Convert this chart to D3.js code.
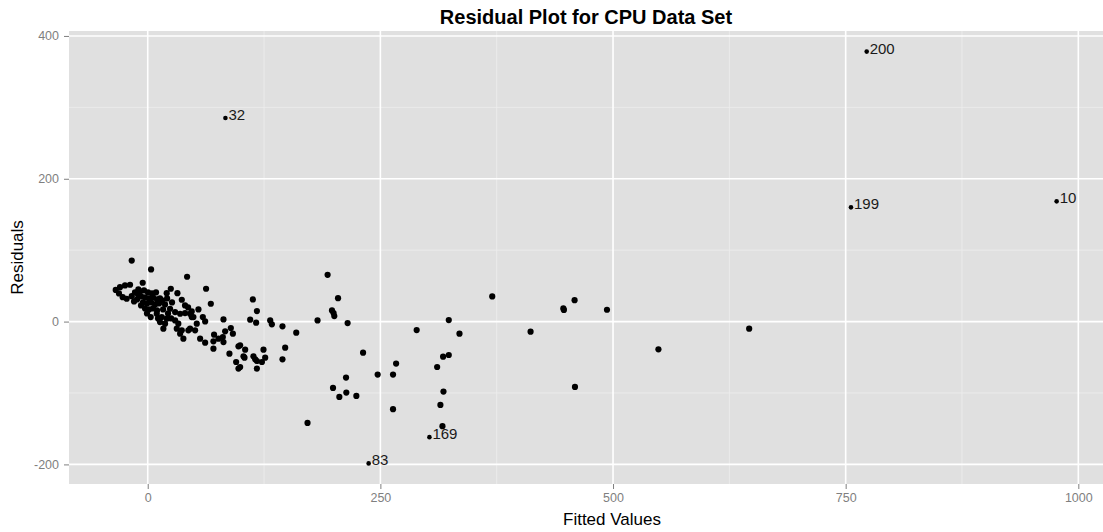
<!DOCTYPE html>
<html>
<head>
<meta charset="utf-8">
<script src="https://cdn.jsdelivr.net/npm/d3@7"></script>
<style>
  html, body { margin: 0; padding: 0; background: #ffffff; overflow: hidden; }
  svg { display: block; font-family: "Liberation Sans", Arial, Helvetica, sans-serif; }
</style>
</head>
<body>
<svg id="chart" width="1103" height="532"></svg>
<script>
// Fitted values and residuals of the linear model on the CPU performance data
const fitted = [
  -17.2, 3.6, 42.3, -5.4, -34.4, -29.8, -24.4, -19.0, -10.1, -26.9,
  -22.6, -17.2, -13.7, -30.9, -8.3, -4.0, 0.3, 4.6, 8.9, -7.2,
  -2.9, 1.4, 5.7, 10.0, 13.2, -5.1, -0.8, 3.6, 7.9, 12.2,
  -11.5, -2.9, 1.4, 5.7, 10.0, 3.2, -0.8, -7.2, -14.7, -10.4,
  24.8, 20.4, 31.9, 36.6, 18.6, 24.0, 29.4, 34.8, 40.1, 45.5,
  9.7, 15.1, 20.4, 13.2, 18.6, 16.8, 29.4, 32.9, 31.2, 36.6,
  34.8, 38.3, 43.7, 47.3, 15.4, 20.8, 26.1, 16.5, 21.8, 25.1,
  11.1, 40.1, 43.4, 62.7, 67.8, 54.5, 47.3, 49.1, 59.2, 61.7,
  52.7, 50.9, 45.5, 81.4, 56.3, 61.7, 71.3, 70.6, 76.0, 80.7,
  81.4, 83.2, 89.3, 91.5, 70.6, 87.8, 97.5, 102.9, 113.0, 117.3,
  110.1, 116.5, 131.6, 133.4, 144.8, 159.6, 182.5, 99.3, 104.7, 104.0,
  99.3, 113.6, 115.5, 117.3, 122.7, 124.4, 126.2, 117.3, 147.7, 144.8,
  193.3, 204.5, 198.0, 199.7, 200.5, 214.8, 231.4, 213.1, 199.1, 205.9,
  213.4, 224.2, 247.1, 263.6, 266.9, 263.6, 171.7, 95.0, 97.5, 370.2,
  446.6, 447.2, 458.7, 493.5, 323.5, 289.0, 335.0, 411.4, 548.8, 317.4,
  323.5, 311.0, 317.8, 314.5, 459.1, 646.3, 316.7
];
const residuals = [
  85.5, 73.0, 62.8, 54.4, 44.3, 48.2, 50.6, 51.6, 45.0, 34.2,
  32.0, 35.6, 40.8, 39.4, 42.2, 43.6, 40.8, 39.4, 40.8, 35.2,
  33.8, 32.4, 33.8, 31.0, 32.4, 26.8, 25.4, 26.8, 24.0, 25.4,
  31.0, 18.4, 17.1, 18.4, 15.7, 6.3, 11.5, 22.6, 28.2, 38.0,
  46.0, 39.8, 39.8, 30.6, 24.0, 18.0, 13.3, 11.0, 11.9, 11.0,
  11.0, 6.3, 4.1, -0.7, -2.9, -9.9, 1.7, -2.9, -9.9, -12.3,
  -16.9, -23.9, -12.3, 6.3, 29.6, 32.4, 26.8, 17.1, 11.5, 4.5,
  4.5, 22.6, 19.8, 46.0, 25.0, 17.1, 14.3, 6.3, 6.3, 0.3,
  -2.9, -12.3, -9.9, 3.1, -23.9, -29.5, -18.3, -27.7, -23.9, -21.7,
  -28.7, -13.7, -9.1, -16.9, -37.9, -44.9, -34.7, -48.6, 31.0, 14.7,
  2.7, -1.5, 1.7, -3.9, -6.7, -15.5, 1.7, -33.3, -39.3, -50.5,
  -63.6, -48.6, -52.8, -55.2, -56.6, -39.3, -50.5, -65.8, -36.5, -52.8,
  65.5, 32.8, 15.7, 11.9, 7.7, -2.1, -43.5, -78.4, -92.9, -105.5,
  -99.4, -104.1, -74.2, -74.2, -58.8, -122.7, -141.9, -56.6, -65.8, 35.2,
  18.4, 16.4, 30.0, 16.6, 2.1, -11.9, -16.9, -14.1, -38.9, -49.1,
  -46.8, -63.6, -98.0, -116.7, -91.5, -9.9, -146.5
];

// Observations flagged with their row number
const labelIds = ["32", "200", "199", "10", "83", "169"];
const labelFitted = [83.5, 772.6, 755.7, 976.7, 237.4, 302.7];
const labelResiduals = [285.0, 378.1, 160.0, 168.4, -198.6, -161.8];

// Axis limits and breaks
const xLimits = [-84.6, 1082.4];
const xTicks = [0, 250, 500, 750, 1000];
const yTicks = [-200, 0, 200, 400];
const xMinor = [125, 375, 625, 875];
const yMinor = [-100, 100, 300];

const width = 1103, height = 532;
const svg = d3.select("#chart");
// The plotting panel runs past the right edge of the figure
const panel = { left: 69, right: 1155, top: 31, bottom: 484 };
const plotWidth = 1172;

// ggplot-style 5% expansion of the data range
function expanded(values) {
  const [lo, hi] = d3.extent(values);
  const pad = (hi - lo) * 0.05;
  return [lo - pad, hi + pad];
}

const allY = residuals.concat(labelResiduals);
const x = d3.scaleLinear().domain(xLimits).range([panel.left, panel.right]);
const y = d3.scaleLinear().domain(expanded(allY)).range([panel.bottom, panel.top]);

// Panel background
svg.append("rect")
  .attr("x", panel.left).attr("y", panel.top)
  .attr("width", panel.right - panel.left)
  .attr("height", panel.bottom - panel.top)
  .attr("fill", "#e0e0e0");

// Minor grid
const grid = svg.append("g");
grid.selectAll(".vminor").data(xMinor).join("line")
  .attr("x1", d => x(d)).attr("x2", d => x(d))
  .attr("y1", panel.top).attr("y2", panel.bottom)
  .attr("stroke", "#eeeeee").attr("stroke-width", 0.8);
grid.selectAll(".hminor").data(yMinor).join("line")
  .attr("x1", panel.left).attr("x2", panel.right)
  .attr("y1", d => y(d)).attr("y2", d => y(d))
  .attr("stroke", "#eeeeee").attr("stroke-width", 0.8);

// Major grid
grid.selectAll(".vmajor").data(xTicks).join("line")
  .attr("x1", d => x(d)).attr("x2", d => x(d))
  .attr("y1", panel.top).attr("y2", panel.bottom)
  .attr("stroke", "#ffffff").attr("stroke-width", 1.6);
grid.selectAll(".hmajor").data(yTicks).join("line")
  .attr("x1", panel.left).attr("x2", panel.right)
  .attr("y1", d => y(d)).attr("y2", d => y(d))
  .attr("stroke", "#ffffff").attr("stroke-width", 1.6);

// Axes
const xAxis = svg.append("g")
  .attr("transform", `translate(0,${panel.bottom})`)
  .call(d3.axisBottom(x).tickValues(xTicks).tickSize(5).tickPadding(4).tickFormat(d3.format("d")));
const yAxis = svg.append("g")
  .attr("transform", `translate(${panel.left},0)`)
  .call(d3.axisLeft(y).tickValues(yTicks).tickSize(5).tickPadding(5).tickFormat(d3.format("d")));

[xAxis, yAxis].forEach(g => {
  g.select(".domain").remove();
  g.selectAll(".tick line").attr("stroke", "#7f7f7f").attr("stroke-width", 1);
  g.selectAll(".tick text")
    .attr("fill", "#7f7f7f")
    .style("font-size", "12.5px")
    .style("font-family", "'Liberation Sans', Arial, sans-serif");
});
yAxis.selectAll(".tick text").text(d => d < 0 ? "-" + Math.abs(d) : d);

// Points
svg.append("g").selectAll("circle")
  .data(d3.range(fitted.length))
  .join("circle")
  .attr("cx", i => x(fitted[i]))
  .attr("cy", i => y(residuals[i]))
  .attr("r", 3.1)
  .attr("fill", "#000000");

// Labelled observations
const lab = svg.append("g");
lab.selectAll("circle")
  .data(d3.range(labelIds.length))
  .join("circle")
  .attr("cx", i => x(labelFitted[i]))
  .attr("cy", i => y(labelResiduals[i]))
  .attr("r", 2.3)
  .attr("fill", "#000000");
lab.selectAll("text")
  .data(d3.range(labelIds.length))
  .join("text")
  .attr("x", i => x(labelFitted[i]) + 3)
  .attr("y", i => y(labelResiduals[i]) - 2)
  .attr("dominant-baseline", "middle")
  .attr("fill", "#1a1a1a")
  .style("font-size", "15px")
  .text(i => labelIds[i]);

// Titles
svg.append("text")
  .attr("x", plotWidth / 2)
  .attr("y", 24)
  .attr("text-anchor", "middle")
  .style("font-size", "20px")
  .style("font-weight", "bold")
  .attr("fill", "#000000")
  .text("Residual Plot for CPU Data Set");

svg.append("text")
  .attr("x", (panel.left + panel.right) / 2)
  .attr("y", 525)
  .attr("text-anchor", "middle")
  .style("font-size", "17px")
  .attr("fill", "#000000")
  .text("Fitted Values");

svg.append("text")
  .attr("transform", `translate(23,${(panel.top + panel.bottom) / 2}) rotate(-90)`)
  .attr("text-anchor", "middle")
  .style("font-size", "17px")
  .attr("fill", "#000000")
  .text("Residuals");
</script>
</body>
</html>
